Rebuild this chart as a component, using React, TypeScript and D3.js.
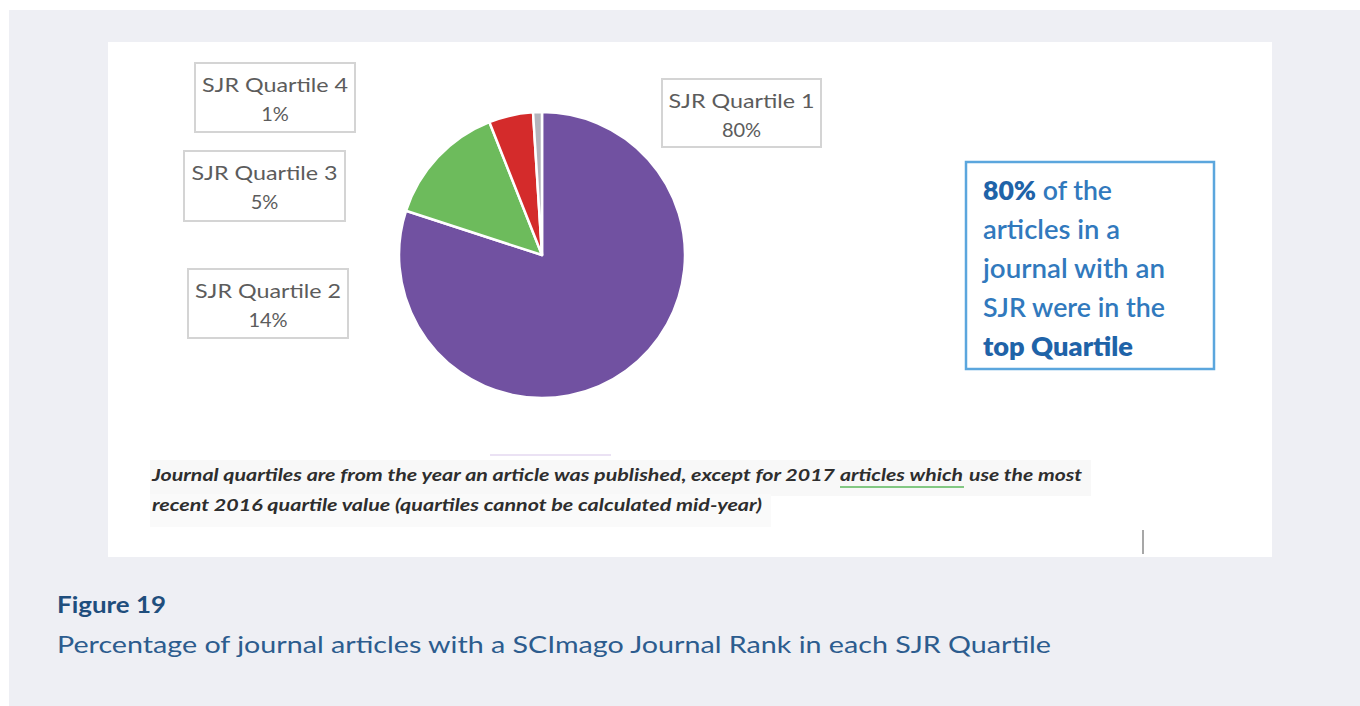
import React from "react";
import * as d3 from "d3";

const categories = ["SJR Quartile 1", "SJR Quartile 2", "SJR Quartile 3", "SJR Quartile 4"];
const values = [80, 14, 5, 1];
const valueLabels = ["80%", "14%", "5%", "1%"];
const colors = ["#7151a1", "#6dbb5c", "#d42b2b", "#b4b4bc"];
const labelBoxes = [
  { x: 662, y: 79, w: 159, h: 68 },
  { x: 188, y: 269, w: 160, h: 69 },
  { x: 184, y: 151, w: 161, h: 70 },
  { x: 195, y: 63, w: 160, h: 69 },
];
const calloutLines = [
  [{ t: "80%", b: true }, { t: " of the", b: false }],
  [{ t: "articles in a", b: false }],
  [{ t: "journal with an", b: false }],
  [{ t: "SJR were in the", b: false }],
  [{ t: "top Quartile", b: true }],
];
const calloutWidths = [129, 137, 182, 182, 150];
const footLine1a = "Journal quartiles are from the year an article was published, except for 2017";
const footLine1b = "articles which";
const footLine1c = "use the most";
const footLine2 = "recent 2016 quartile value (quartiles cannot be calculated mid-year)";
const figTitle = "Figure 19";
const figSubtitle = "Percentage of journal articles with a SCImago Journal Rank in each SJR Quartile";

export default function App() {
  const cx = 542, cy = 255, r = 143;
  const pie = d3.pie<number>().sort(null).value((d) => d)(values);
  const arc = d3.arc<d3.PieArcDatum<number>>().innerRadius(0).outerRadius(r);
  const labelFont = "Lato, 'Open Sans', sans-serif";
  const footProps = {
    fontFamily: labelFont,
    fontSize: 17,
    fontStyle: "italic",
    fontWeight: 700,
    fill: "#2e2e2e",
    lengthAdjust: "spacingAndGlyphs",
  } as any;
  return (
    <div style={{ position: "absolute", left: 0, top: 0 }}>
      <svg width={1360} height={706} style={{ display: "block" }}>
        <rect x={0} y={0} width={1360} height={706} fill="#ffffff" />
        <rect x={9} y={10} width={1351} height={696} fill="#eeeff4" />
        <rect x={108} y={42} width={1164} height={515} fill="#ffffff" />
        <g transform={`translate(${cx},${cy})`}>
          {pie.map((p, i) => (
            <path key={i} d={arc(p) || ""} fill={colors[i]} stroke="#ffffff" strokeWidth={2.5} strokeLinejoin="round" />
          ))}
        </g>
        {labelBoxes.map((b, i) => (
          <g key={i}>
            <rect x={b.x} y={b.y} width={b.w} height={b.h} fill="#ffffff" stroke="#d4d4d4" strokeWidth={2} />
            <text x={b.x + b.w / 2} y={b.y + 29} textAnchor="middle" fontFamily={labelFont} fontSize={20} fill="#5c5c5c" textLength={146} lengthAdjust="spacingAndGlyphs">
              {categories[i]}
            </text>
            <text x={b.x + b.w / 2} y={b.y + 58} textAnchor="middle" fontFamily={labelFont} fontSize={20} fill="#5c5c5c">
              {valueLabels[i]}
            </text>
          </g>
        ))}
        <rect x={966} y={162} width={248} height={207} fill="#ffffff" stroke="#5ba6dd" strokeWidth={2.5} />
        {calloutLines.map((line, i) => (
          <text key={i} x={983} y={200 + i * 39} fontFamily={labelFont} fontSize={26.5} fill="#2f74b8" fontWeight={600} textLength={calloutWidths[i]} lengthAdjust="spacingAndGlyphs">
            {line.map((s, j) => (
              <tspan key={j} fontWeight={s.b ? 800 : 600} fill={s.b ? "#1f63a8" : "#3179bd"}>{s.t}</tspan>
            ))}
          </text>
        ))}
        <line x1={490} x2={611} y1={455} y2={455} stroke="#e4d8f0" strokeWidth={1.5} />
        <rect x={150} y={460} width={941} height={36} fill="#f8f8f8" />
        <rect x={150} y={494} width={621} height={33} fill="#fafafa" />
        <text x={152} y={481} {...footProps} textLength={683}>{footLine1a}</text>
        <text x={840} y={481} {...footProps} textLength={123}>{footLine1b}</text>
        <text x={969} y={481} {...footProps} textLength={113}>{footLine1c}</text>
        <line x1={840} x2={964} y1={487} y2={487} stroke="#5cb85c" strokeWidth={1.5} />
        <text x={152} y={511} {...footProps} textLength={610}>{footLine2}</text>
        <line x1={1143} x2={1143} y1={530} y2={554} stroke="#8a8a8a" strokeWidth={1.5} />
        <text x={57} y={613} fontFamily={labelFont} fontSize={23} fontWeight={700} fill="#1f4e7d" textLength={109} lengthAdjust="spacingAndGlyphs">
          {figTitle}
        </text>
        <text x={57} y={653} fontFamily={labelFont} fontSize={23} fontWeight={400} fill="#2c5c8e" textLength={994} lengthAdjust="spacingAndGlyphs">
          {figSubtitle}
        </text>
      </svg>
    </div>
  );
}
